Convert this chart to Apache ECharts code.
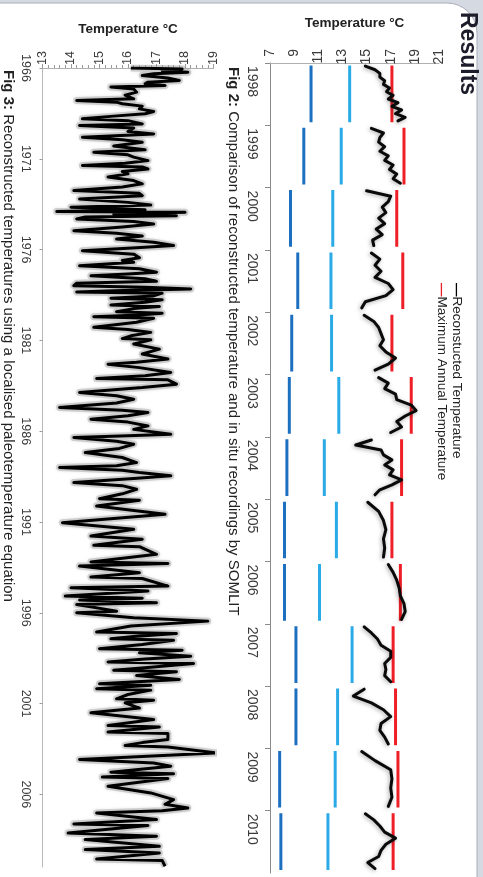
<!DOCTYPE html>
<html>
<head>
<meta charset="utf-8">
<script src="https://cdn.jsdelivr.net/npm/echarts@6/dist/echarts.min.js"></script>
<style>
  html, body { margin: 0; padding: 0; background: #ffffff; }
  #chart { width: 483px; height: 877px; }
</style>
</head>
<body>
<div id="chart"></div>
<script>
// ---- Fig 2: annual in situ recordings vs. reconstructed temperature ----
const fig2Years = [1998, 1999, 2000, 2001, 2002, 2003, 2004, 2005, 2006, 2007, 2008, 2009, 2010];
const fig2Minimum = [10.4, 9.8, 8.7, 9.3, 8.8, 8.6, 8.4, 8.2, 8.2, 9.15, 9.15, 7.8, 7.9];
const fig2Mean = [13.6, 12.9, 12.2, 12.05, 12.1, 12.7, 11.5, 12.5, 11.1, 13.8, 12.6, 12.4, 11.8];
const fig2Maximum = [17.1, 18.1, 17.5, 18.0, 17.1, 18.7, 17.9, 17.1, 17.8, 17.2, 17.4, 17.6, 17.2];
const fig2Reconstructed = [
  [14.9, 15.7, 16.1, 16.1, 16.5, 16.4, 16.9, 16.65, 17.2, 16.8, 17.6, 17.1, 17.9, 17.4, 18.2, 17.6],
  [15.4, 16.4, 16.1, 16.0, 16.5, 16.1, 16.8, 16.5, 17.2, 16.9, 17.5, 17.2, 17.8],
  [15.0, 17.0, 16.8, 16.3, 16.6, 16.0, 16.5, 15.8, 16.3, 15.5, 15.6],
  [15.4, 16.1, 15.7, 16.2, 15.7, 16.8, 17.2, 16.6, 14.9, 14.6],
  [14.8, 15.6, 16.0, 16.2, 16.4, 16.1, 16.6, 17.4, 16.8, 15.7],
  [16.0, 16.8, 16.5, 17.4, 17.5, 18.7, 19.1, 18.2, 17.5, 17.9, 17.0],
  [15.4, 14.1, 16.2, 16.4, 17.1, 16.5, 17.2, 16.9, 17.9, 17.1, 16.1, 15.7],
  [15.1, 16.0, 16.4, 16.6, 16.4, 16.5, 16.4],
  [16.8, 17.2, 17.5, 17.7, 17.8, 18.1, 18.2, 17.9],
  [14.8, 15.4, 15.9, 16.2, 17.0, 17.0, 16.5, 16.6, 16.5, 17.0],
  [14.8, 13.9, 15.4, 16.4, 17.0, 16.2, 16.1, 16.5, 16.8],
  [14.6, 15.7, 17.0, 17.1, 17.0, 17.1, 16.8],
  [14.9, 15.6, 16.1, 16.5, 17.4, 16.6, 16.2, 16.0, 15.1, 15.7]
];
const fig2TempTicks = [7, 9, 11, 13, 15, 17, 19, 21];

// ---- Fig 3: reconstructed temperatures 1966-2010, [year, °C] ----
const fig3YearTicks = [1966, 1971, 1976, 1981, 1986, 1991, 1996, 2001, 2006];
const fig3TempTicks = [13, 14, 15, 16, 17, 18, 19];
const fig3Reconstructed = [
  [1966.00,16.1],[1966.05,17.9],[1966.14,17.2],[1966.23,18.1],[1966.32,16.9],[1966.41,16.5],[1966.55,17.4],
  [1966.69,17.8],[1966.78,16.7],[1966.87,16.6],[1966.96,17.3],[1967.05,15.4],[1967.16,16.2],[1967.33,16.3],
  [1967.50,15.9],[1967.70,16.2],[1967.79,14.2],[1967.88,15.6],[1967.97,15.8],[1968.10,16.5],[1968.25,16.4],
  [1968.40,16.9],[1968.52,16.6],[1968.65,15.5],[1968.80,14.4],[1968.90,16.0],[1969.08,16.5],[1969.17,14.3],
  [1969.30,16.2],[1969.50,16.0],[1969.63,16.9],[1969.81,14.4],[1969.95,15.8],[1970.09,16.5],[1970.30,15.5],
  [1970.50,16.6],[1970.64,14.8],[1970.78,16.0],[1970.91,16.2],[1971.10,16.7],[1971.25,15.9],[1971.37,14.4],
  [1971.45,16.5],[1971.56,16.7],[1971.70,15.8],[1971.83,16.0],[1972.00,15.3],[1972.20,16.2],[1972.38,16.5],
  [1972.55,15.8],[1972.75,14.1],[1972.90,16.4],[1973.03,16.5],[1973.21,14.3],[1973.40,16.0],[1973.55,16.8],
  [1973.67,14.0],[1973.80,16.6],[1973.90,13.5],[1973.95,18.0],[1974.05,15.5],[1974.13,17.7],[1974.20,14.5],
  [1974.31,14.2],[1974.45,16.2],[1974.59,16.9],[1974.75,15.8],[1974.96,14.1],[1975.10,15.6],[1975.25,16.5],
  [1975.42,15.6],[1975.60,16.9],[1975.78,17.6],[1975.90,16.3],[1976.06,14.4],[1976.25,16.2],[1976.45,16.4],
  [1976.60,15.8],[1976.70,16.2],[1976.89,14.3],[1977.05,16.4],[1977.25,17.0],[1977.35,16.0],[1977.44,14.7],
  [1977.60,16.6],[1977.75,17.0],[1977.85,14.2],[1977.99,14.1],[1978.08,16.6],[1978.17,18.2],[1978.27,15.5],
  [1978.33,14.2],[1978.40,17.2],[1978.55,16.9],[1978.68,15.4],[1978.76,17.2],[1978.90,16.6],[1979.05,15.4],
  [1979.13,17.1],[1979.25,16.2],[1979.42,15.6],[1979.50,17.2],[1979.60,16.4],[1979.70,14.8],[1979.78,16.9],
  [1980.00,16.3],[1980.28,14.8],[1980.40,16.0],[1980.56,16.8],[1980.75,16.1],[1980.90,15.8],[1980.97,16.8],
  [1981.20,16.2],[1981.48,17.1],[1981.75,16.5],[1982.03,17.4],[1982.20,16.3],[1982.31,15.3],[1982.50,16.4],
  [1982.77,17.5],[1982.95,16.6],[1983.10,14.9],[1983.17,17.4],[1983.41,17.7],[1983.60,16.5],[1983.87,14.3],
  [1984.05,15.6],[1984.24,16.2],[1984.45,15.6],[1984.69,13.6],[1984.85,15.8],[1984.97,16.7],[1985.15,16.0],
  [1985.34,14.7],[1985.50,16.0],[1985.71,16.7],[1985.90,16.2],[1986.17,17.5],[1986.25,16.0],[1986.35,14.1],
  [1986.55,15.6],[1986.72,16.2],[1986.95,15.7],[1987.18,14.5],[1987.45,15.8],[1987.73,16.3],[1987.90,15.6],
  [1988.00,13.6],[1988.15,15.8],[1988.28,16.4],[1988.46,17.5],[1988.60,16.2],[1988.83,14.1],[1989.00,15.8],
  [1989.20,16.3],[1989.45,15.8],[1989.72,15.0],[1989.80,16.4],[1990.12,14.9],[1990.58,17.3],[1991.04,13.7],
  [1991.40,16.2],[1991.77,14.7],[1991.95,16.5],[1992.28,14.8],[1992.36,16.4],[1992.78,17.0],[1993.20,14.7],
  [1993.28,17.4],[1993.43,14.3],[1993.79,16.4],[1994.03,14.7],[1994.11,16.5],[1994.53,17.4],[1994.62,14.0],
  [1994.80,16.7],[1995.08,13.8],[1995.20,16.5],[1995.30,14.3],[1995.45,17.0],[1995.54,14.2],[1995.91,15.6],
  [1996.00,14.2],[1996.27,16.2],[1996.46,18.8],[1996.73,16.1],[1997.06,14.9],[1997.14,17.7],[1997.30,16.2],
  [1997.43,15.4],[1997.51,17.6],[1997.75,16.5],[1997.98,15.0],[1998.06,17.9],[1998.20,16.4],[1998.39,18.2],
  [1998.55,16.6],[1998.71,15.3],[1998.79,18.3],[1999.00,16.8],[1999.17,15.5],[1999.25,17.7],[1999.45,16.3],
  [1999.67,17.8],[1999.91,15.0],[1999.99,16.8],[2000.18,14.9],[2000.26,16.8],[2000.50,16.0],[2000.74,15.6],
  [2000.82,16.9],[2000.96,15.9],[2001.25,16.4],[2001.51,14.7],[2001.88,16.9],[2002.21,15.3],[2002.29,17.1],
  [2002.57,15.3],[2002.65,17.4],[2002.98,17.4],[2003.15,16.5],[2003.31,15.9],[2003.39,17.4],[2003.72,19.1],
  [2004.08,14.3],[2004.27,16.9],[2004.45,17.5],[2004.78,15.4],[2004.86,17.6],[2005.05,15.1],[2005.13,17.4],
  [2005.55,15.3],[2005.92,16.8],[2006.29,17.6],[2006.55,17.3],[2006.75,18.1],[2006.90,17.2],[2007.02,14.9],
  [2007.39,17.0],[2007.63,14.1],[2007.71,16.7],[2008.13,13.9],[2008.31,17.0],[2008.49,14.5],[2008.86,17.1],
  [2009.04,14.5],[2009.23,17.1],[2009.56,14.9],[2009.64,17.2],[2009.96,17.3]
];

const FONT = '"Liberation Sans", Arial, sans-serif';
const GAP = ['-', '-'];

// one flat segment per year, broken between years
function yearSegments(values) {
  const out = [];
  fig2Years.forEach((y, i) => {
    out.push([values[i], y + 0.04], [values[i], y + 0.95], GAP);
  });
  return out;
}
// reconstructed points spread across each year's band
function reconstructedSegments() {
  const out = [];
  fig2Years.forEach((y, i) => {
    const vals = fig2Reconstructed[i];
    const n = vals.length;
    vals.forEach((v, k) => out.push([v, y + 0.05 + (0.88 * k) / (n - 1)]));
    out.push(GAP);
  });
  return out;
}
// temperature runs along x, time along y
const fig3Points = fig3Reconstructed.map(([year, temp]) => [temp, year]);

const axisGray = '#8a8a8a';
const labelColor = '#3a3a3a';

const chart = echarts.init(document.getElementById('chart'), null, { renderer: 'canvas' });

const option = {
  backgroundColor: '#ffffff',
  animation: false,
  textStyle: { fontFamily: FONT },
  grid: [
    { left: 270, right: 44, top: 63, bottom: 4 },
    { left: 42.5, right: 269.5, top: 68, bottom: 10 }
  ],
  xAxis: [
    {
      gridIndex: 0, type: 'value', position: 'top',
      min: fig2TempTicks[0], max: fig2TempTicks[fig2TempTicks.length - 1], interval: 2,
      name: 'Temperature °C', nameLocation: 'middle', nameGap: 33,
      nameTextStyle: { fontFamily: FONT, fontWeight: 'bold', fontSize: 13.5, color: '#222' },
      axisLine: { show: true, lineStyle: { color: '#b0b0b0', width: 1 } },
      axisTick: { show: false },
      splitLine: { show: false },
      axisLabel: {
        rotate: -90, align: 'right', verticalAlign: 'middle', margin: 14,
        fontSize: 14, color: labelColor, fontFamily: FONT
      }
    },
    {
      gridIndex: 1, type: 'value', position: 'top',
      min: fig3TempTicks[0], max: fig3TempTicks[fig3TempTicks.length - 1], interval: 1,
      name: 'Temperature °C', nameLocation: 'middle', nameGap: 32,
      nameTextStyle: { fontFamily: FONT, fontWeight: 'bold', fontSize: 13.5, color: '#222' },
      axisLine: { show: true, lineStyle: { color: '#b0b0b0', width: 1 } },
      axisTick: { show: true, length: 4, lineStyle: { color: '#9a9a9a' } },
      minorTick: { show: true, splitNumber: 5, length: 3, lineStyle: { color: '#9a9a9a' } },
      splitLine: { show: false },
      axisLabel: {
        rotate: -90, align: 'right', verticalAlign: 'middle', margin: 17,
        fontSize: 12.5, color: labelColor, fontFamily: FONT
      }
    }
  ],
  yAxis: [
    {
      gridIndex: 0, type: 'value', inverse: true,
      min: fig2Years[0], max: fig2Years[fig2Years.length - 1] + 1, interval: 1,
      axisLine: { show: true, lineStyle: { color: axisGray, width: 1 } },
      axisTick: { show: true, length: 5, lineStyle: { color: axisGray } },
      splitLine: { show: false },
      axisLabel: {
        rotate: -90, align: 'left', verticalAlign: 'middle', margin: 18,
        padding: [0, 0, 0, 3], showMaxLabel: false,
        fontSize: 14, color: labelColor, fontFamily: FONT,
        formatter: v => (fig2Years.indexOf(v) >= 0 ? String(v) : '')
      }
    },
    {
      gridIndex: 1, type: 'value', inverse: true,
      min: fig3YearTicks[0], max: 2010, interval: 5,
      axisLine: { show: true, lineStyle: { color: '#b8b8b8', width: 1 } },
      axisTick: { show: true, length: 3, lineStyle: { color: '#9a9a9a' } },
      splitLine: { show: false },
      axisLabel: {
        rotate: -90, align: 'center', verticalAlign: 'middle', margin: 17,
        showMaxLabel: false,
        fontSize: 12.5, color: labelColor, fontFamily: FONT,
        formatter: v => (fig3YearTicks.indexOf(v) >= 0 ? String(v) : '')
      }
    }
  ],
  series: [
    {
      name: 'Minimum', type: 'line', xAxisIndex: 0, yAxisIndex: 0,
      data: yearSegments(fig2Minimum), showSymbol: false, connectNulls: false,
      lineStyle: { color: '#1d6fc0', width: 3 }, silent: true
    },
    {
      name: 'Mean', type: 'line', xAxisIndex: 0, yAxisIndex: 0,
      data: yearSegments(fig2Mean), showSymbol: false, connectNulls: false,
      lineStyle: { color: '#2aaae6', width: 3 }, silent: true
    },
    {
      name: 'Maximum Annual Temperature', type: 'line', xAxisIndex: 0, yAxisIndex: 0,
      data: yearSegments(fig2Maximum), showSymbol: false, connectNulls: false,
      lineStyle: { color: '#ee1f26', width: 3 }, silent: true
    },
    {
      name: 'Reconstucted Temperature', type: 'line', xAxisIndex: 0, yAxisIndex: 0,
      data: reconstructedSegments(), showSymbol: false, connectNulls: false,
      lineStyle: {
        color: '#0a0a0a', width: 3, join: 'round', cap: 'round',
        shadowColor: 'rgba(0,0,0,0.35)', shadowBlur: 4, shadowOffsetX: -1, shadowOffsetY: 1
      },
      silent: true
    },
    {
      name: 'halo', type: 'line', xAxisIndex: 1, yAxisIndex: 1,
      data: fig3Points, showSymbol: false,
      lineStyle: { color: 'rgba(165,165,165,0.45)', width: 7, join: 'round',
                   shadowColor: 'rgba(120,120,120,0.4)', shadowBlur: 3 },
      silent: true
    },
    {
      name: 'Reconstructed', type: 'line', xAxisIndex: 1, yAxisIndex: 1,
      data: fig3Points, showSymbol: false,
      lineStyle: { color: '#000000', width: 3, join: 'round' },
      silent: true
    }
  ],
  graphic: [
    // poster panel frame
    { type: 'rect', z: -10, silent: true, shape: { x: 0, y: 0, width: 483, height: 877 },
      style: { fill: '#d5d9e2' } },
    { type: 'rect', z: -9, silent: true, shape: { x: -20, y: 3, width: 497, height: 900, r: [0, 30, 0, 0] },
      style: { fill: '#ffffff', stroke: '#a9aeb8', lineWidth: 1 } },
    // section heading
    { type: 'text', x: 467, y: 12, rotation: -Math.PI / 2, silent: true,
      style: { text: 'Results', font: 'bold 23px ' + FONT, fill: '#1c1c2a',
               textAlign: 'left', textVerticalAlign: 'middle' } },
    // legend
    { type: 'text', x: 457, y: 283, rotation: -Math.PI / 2, silent: true,
      style: { text: '{k|—}Reconstucted Temperature', font: '13.5px ' + FONT, fill: '#222',
               textAlign: 'left', textVerticalAlign: 'middle',
               rich: { k: { fill: '#000', font: 'bold 13.5px ' + FONT } } } },
    { type: 'text', x: 442, y: 283, rotation: -Math.PI / 2, silent: true,
      style: { text: '{r|—}Maximum Annual Temperature', font: '13.5px ' + FONT, fill: '#222',
               textAlign: 'left', textVerticalAlign: 'middle',
               rich: { r: { fill: '#ee1f26', font: 'bold 13.5px ' + FONT } } } },
    // captions
    { type: 'text', x: 233, y: 67, rotation: -Math.PI / 2, silent: true,
      style: { text: '{b|Fig 2:} Comparison of reconstructed temperature and in situ recordings by SOMLIT',
               font: '15px ' + FONT, fill: '#222', textAlign: 'left', textVerticalAlign: 'middle',
               rich: { b: { font: 'bold 15px ' + FONT, fill: '#222' } } } },
    { type: 'text', x: 8, y: 70, rotation: -Math.PI / 2, silent: true,
      style: { text: '{b|Fig 3:} Reconstructed temperatures using a localised paleotemperature equation',
               font: '15px ' + FONT, fill: '#222', textAlign: 'left', textVerticalAlign: 'middle',
               rich: { b: { font: 'bold 15px ' + FONT, fill: '#222' } } } }
  ]
};

chart.setOption(option);
</script>
</body>
</html>
